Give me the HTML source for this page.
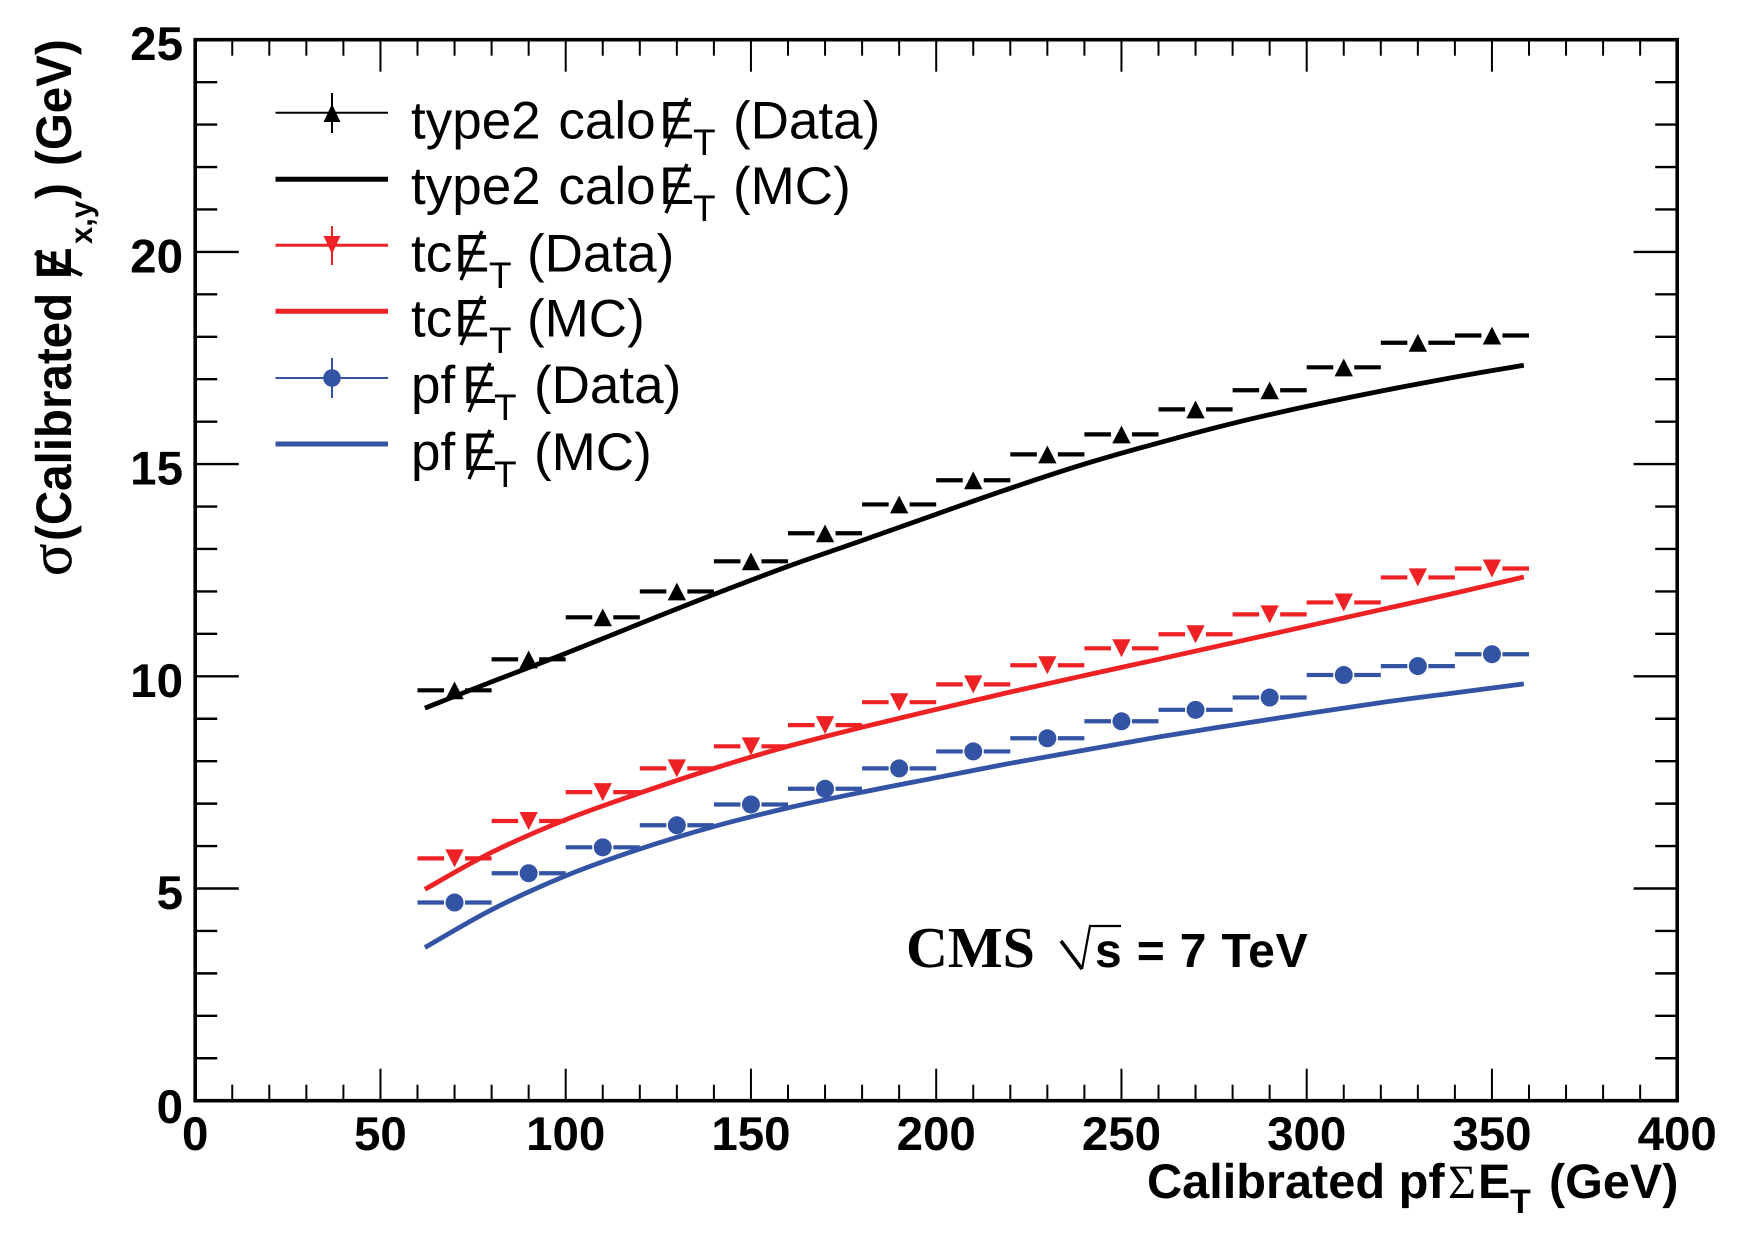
<!DOCTYPE html>
<html lang="en">
<head>
<meta charset="utf-8">
<title>MET resolution vs calibrated pf sum ET</title>
<style>
html,body{margin:0;padding:0;background:#fff;}
svg{display:block;text-rendering:geometricPrecision;}
text{fill:#000;font-family:"Liberation Sans",sans-serif;}
.b{font-weight:bold;}
.leg{font-size:53px;}
.legsub{font-size:37px;}
.slash{stroke:#000;stroke-width:3.4;fill:none;}
</style>
</head>
<body>
<svg id="chart" xmlns="http://www.w3.org/2000/svg" width="1749" height="1249" viewBox="0 0 1749 1249">
  <rect x="0" y="0" width="1749" height="1249" fill="#fff"/>
  <g id="ticks"></g>
  <g id="series"></g>
  <rect x="195.2" y="39.7" width="1482" height="1061" fill="none" stroke="#000" stroke-width="3.6"/>
  <g id="ticklabels"></g>

  <g>
    <text transform="translate(71,576) rotate(-90)" style="font-family:'Liberation Serif',serif;font-size:60px;stroke:#000;stroke-width:.6px">σ</text>
    <text class="b" transform="translate(71,541) rotate(-90) scale(.95,1)" font-size="50">(Calibrated</text>
    <text class="b" transform="translate(71,279) rotate(-90) scale(.95,1)" font-size="50">E</text>
    <line class="slash" style="stroke-width:4" x1="82" y1="275" x2="35" y2="253"/>
    <text class="b" transform="translate(92,244) rotate(-90)" font-size="31">x,y</text>
    <text class="b" transform="translate(71,199) rotate(-90) scale(.95,1)" font-size="50">)</text>
    <text class="b" transform="translate(71,166) rotate(-90) scale(.95,1)" font-size="50">(GeV)</text>
  </g>

  <g>
    <text class="b" x="1147" y="1198" font-size="48.7">Calibrated pf</text>
    <text x="1448" y="1198" font-size="48" style="font-family:'Liberation Serif',serif">Σ</text>
    <text class="b" x="1478" y="1198" font-size="48.5">E</text>
    <text class="b" x="1510" y="1213" font-size="34">T</text>
    <text class="b" x="1549" y="1198" font-size="48.5">(GeV)</text>
  </g>

  <g>
    <g>
      <text class="leg" x="411" y="138.5" word-spacing="3">type2 calo</text>
      <text class="leg" x="659" y="138.5">E</text>
      <line class="slash" x1="666" y1="147" x2="687" y2="98"/>
      <text class="legsub" x="693" y="155">T</text>
      <text class="leg" x="733" y="138.5">(Data)</text>
    </g>
    <g>
      <text class="leg" x="411" y="204" word-spacing="3">type2 calo</text>
      <text class="leg" x="659" y="204">E</text>
      <line class="slash" x1="666" y1="213" x2="687" y2="164"/>
      <text class="legsub" x="693" y="221">T</text>
      <text class="leg" x="733" y="204">(MC)</text>
    </g>
    <g>
      <text class="leg" x="411" y="271.5">tc</text>
      <text class="leg" x="454" y="271.5">E</text>
      <line class="slash" x1="461" y1="280" x2="482" y2="231"/>
      <text class="legsub" x="489" y="288">T</text>
      <text class="leg" x="527" y="271.5">(Data)</text>
    </g>
    <g>
      <text class="leg" x="411" y="336.5">tc</text>
      <text class="leg" x="454" y="336.5">E</text>
      <line class="slash" x1="461" y1="345" x2="482" y2="296"/>
      <text class="legsub" x="489" y="353">T</text>
      <text class="leg" x="527" y="336.5">(MC)</text>
    </g>
    <g>
      <text class="leg" x="411" y="403">pf</text>
      <text class="leg" x="462" y="403">E</text>
      <line class="slash" x1="469" y1="412" x2="490" y2="363"/>
      <text class="legsub" x="494" y="420">T</text>
      <text class="leg" x="534" y="403">(Data)</text>
    </g>
    <g>
      <text class="leg" x="411" y="470">pf</text>
      <text class="leg" x="462" y="470">E</text>
      <line class="slash" x1="469" y1="479" x2="490" y2="430"/>
      <text class="legsub" x="494" y="487">T</text>
      <text class="leg" x="534" y="470">(MC)</text>
    </g>

    <g>
      <line x1="275.5" x2="388" y1="112.7" y2="112.7" stroke="#000" stroke-width="2"/>
      <line x1="332" x2="332" y1="93" y2="133" stroke="#000" stroke-width="2"/>
      <polygon points="332,104 323.5,122 340.5,122" fill="#000"/>
    </g>
    <line x1="275.5" x2="388" y1="179.3" y2="179.3" stroke="#000" stroke-width="5"/>
    <g>
      <line x1="275.5" x2="388" y1="245.3" y2="245.3" stroke="#ee2224" stroke-width="3"/>
      <line x1="332" x2="332" y1="226" y2="265" stroke="#ee2224" stroke-width="2"/>
      <polygon points="323.5,236 340.5,236 332,254" fill="#ee2224"/>
    </g>
    <line x1="275.5" x2="388" y1="311.3" y2="311.3" stroke="#ee2224" stroke-width="5"/>
    <g>
      <line x1="275.5" x2="388" y1="378" y2="378" stroke="#3353a4" stroke-width="2"/>
      <line x1="332" x2="332" y1="358" y2="398" stroke="#3353a4" stroke-width="2"/>
      <circle cx="332" cy="378" r="8.8" fill="#3353a4"/>
    </g>
    <line x1="275.5" x2="388" y1="444" y2="444" stroke="#3353a4" stroke-width="5"/>
  </g>

  <g>
    <text x="906" y="967" font-size="58" font-weight="bold" style="font-family:'Liberation Serif',serif">CMS</text>
    <line x1="1061" y1="941" x2="1082" y2="969" stroke="#000" stroke-width="3.6"/>
    <polyline points="1082,969 1090,926 1121,926" fill="none" stroke="#000" stroke-width="2.2"/>
    <text class="b" x="1095" y="967" font-size="48" letter-spacing=".85">s = 7 TeV</text>
  </g>
</svg>
<script>
// Chart data
const binCenters = [70,90,110,130,150,170,190,210,230,250,270,290,310,330,350];
const caloData = [9.67,10.40,11.39,12.00,12.71,13.37,14.05,14.62,15.23,15.70,16.29,16.74,17.28,17.86,18.03];
const tcData   = [5.71,6.59,7.27,7.83,8.35,8.85,9.39,9.81,10.26,10.66,10.99,11.46,11.74,12.33,12.54];
const pfData   = [4.67,5.36,5.97,6.49,6.98,7.35,7.83,8.23,8.54,8.94,9.21,9.50,10.03,10.24,10.52];
const mcSumEt  = [62,80,100,120,140,160,180,200,220,240,260,280,300,320,340,358.6];
const caloMc   = [9.25,9.87,10.54,11.24,11.93,12.59,13.20,13.82,14.43,15.00,15.50,15.96,16.36,16.72,17.05,17.33];
const tcMc     = [4.98,5.85,6.62,7.25,7.83,8.35,8.80,9.22,9.63,10.02,10.40,10.79,11.18,11.57,11.96,12.34];
const pfMc     = [3.61,4.50,5.30,5.93,6.46,6.90,7.27,7.61,7.95,8.26,8.57,8.85,9.12,9.38,9.61,9.82];
const xTickLabels = [0,50,100,150,200,250,300,350,400];
const yTickLabels = [0,5,10,15,20,25];
const binHalfWidth = 10;

const RED = '#ee2224', BLUE = '#3353a4', BLACK = '#000';
const NS = 'http://www.w3.org/2000/svg';
const xScale = v => 195.2 + 3.705 * v;
const yScale = v => 1100.7 - 42.44 * v;

function mk(tag, attrs, parent) {
  const el = document.createElementNS(NS, tag);
  for (const k in attrs) el.setAttribute(k, attrs[k]);
  parent.appendChild(el);
  return el;
}

const tickG = document.getElementById('ticks');
const labelG = document.getElementById('ticklabels');
const seriesG = document.getElementById('series');

function drawXTick(v) {
  const major = v % 50 === 0;
  const len = major ? 32 : 16;
  const x = xScale(v);
  const bottom = mk('line', {x1:x, x2:x, y1:1100.7, y2:1100.7 - len, stroke:'#000', 'stroke-width':2}, tickG);
  
  
  const top = mk('line', {x1:x, x2:x, y1:39.7, y2:39.7 + len, stroke:'#000', 'stroke-width':2}, tickG);
  
  
}
function drawYTick(v) {
  const major = v % 5 === 0;
  const len = major ? 43.6 : 22;
  const y = yScale(v);
  const left = mk('line', {x1:195.2, x2:195.2 + len, y1:y, y2:y, stroke:'#000', 'stroke-width':2.4}, tickG);
  
  
  const right = mk('line', {x1:1677.2, x2:1677.2 - len, y1:y, y2:y, stroke:'#000', 'stroke-width':2.4}, tickG);
  
  
}
for (let v = 10; v < 400; v += 10) drawXTick(v);
for (let v = 1; v < 25; v += 1) drawYTick(v);

xTickLabels.forEach(v => {
  const t = mk('text', {x:xScale(v), y:1150, 'text-anchor':'middle', 'font-size':47.5, 'font-weight':'bold'}, labelG);
  
  
  t.textContent = v;
});
yTickLabels.forEach(v => {
  const t = mk('text', {x:183, y:yScale(v) + (v === 0 ? 22.5 : 20.5), 'text-anchor':'end', 'font-size':47.5, 'font-weight':'bold'}, labelG);
  
  
  t.textContent = v;
});

function smoothPath(xs, ys) {
  const p = xs.map((x, i) => [xScale(x), yScale(ys[i])]);
  let d = 'M' + p[0][0].toFixed(1) + ' ' + p[0][1].toFixed(1);
  for (let i = 0; i < p.length - 1; i++) {
    const a = p[Math.max(i - 1, 0)], b = p[i], c = p[i + 1], e = p[Math.min(i + 2, p.length - 1)];
    const c1 = [b[0] + (c[0] - a[0]) / 6, b[1] + (c[1] - a[1]) / 6];
    const c2 = [c[0] - (e[0] - b[0]) / 6, c[1] - (e[1] - b[1]) / 6];
    d += 'C' + c1[0].toFixed(1) + ' ' + c1[1].toFixed(1) + ' ' + c2[0].toFixed(1) + ' ' + c2[1].toFixed(1) + ' ' + c[0].toFixed(1) + ' ' + c[1].toFixed(1);
  }
  return d;
}

function drawCurve(values, color, name) {
  const path = mk('path', {d:smoothPath(mcSumEt, values), fill:'none', stroke:color, 'stroke-width':4.8}, seriesG);
  
  
}

function drawPoints(values, color, shape, name) {
  binCenters.forEach((c, i) => {
    const px = xScale(c), py = yScale(values[i]);
    const gap = 10.5;
    const g = mk('g', {}, seriesG);
    
    
    mk('line', {x1:xScale(c - binHalfWidth), x2:px - gap, y1:py, y2:py, stroke:color, 'stroke-width':4.2}, g);
    mk('line', {x1:px + gap, x2:xScale(c + binHalfWidth), y1:py, y2:py, stroke:color, 'stroke-width':4.2}, g);
    if (shape === 'up') {
      mk('polygon', {points:`${px},${py - 8.8} ${px - 9.2},${py + 9} ${px + 9.2},${py + 9}`, fill:color}, g);
    } else if (shape === 'down') {
      mk('polygon', {points:`${px - 9.2},${py - 9} ${px + 9.2},${py - 9} ${px},${py + 9}`, fill:color}, g);
    } else {
      mk('circle', {cx:px, cy:py, r:9, fill:color}, g);
    }
  });
}

drawCurve(caloMc, BLACK, 'calo-mc-curve');
drawCurve(tcMc, RED, 'tc-mc-curve');
drawCurve(pfMc, BLUE, 'pf-mc-curve');
drawPoints(caloData, BLACK, 'up', 'calo-data-point');
drawPoints(tcData, RED, 'down', 'tc-data-point');
drawPoints(pfData, BLUE, 'circle', 'pf-data-point');
</script>
</body>
</html>
